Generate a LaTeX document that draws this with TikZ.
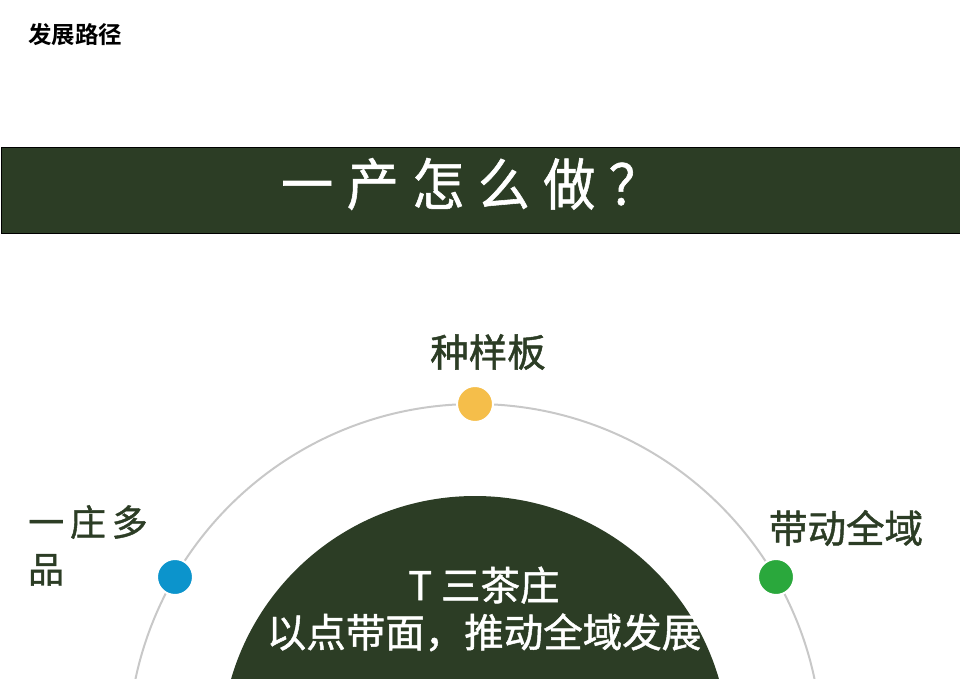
\documentclass[tikz,border=0pt]{standalone}
\usepackage{fontspec}
\setmainfont{Liberation Sans}
\newfontfamily\cjk[FakeBold=1.2]{Noto Sans CJK SC}
\newfontfamily\cjkbold{Noto Sans CJK SC Bold}
\newfontfamily\cjkspaced[LetterSpace=24,FakeStretch=0.93,FakeBold=1]{Noto Sans CJK SC}
\newfontfamily\cjkfarm[LetterSpace=16,FakeBold=1.2]{Noto Sans CJK SC}
\definecolor{teagreen}{RGB}{44,61,37}
\definecolor{arcgray}{RGB}{200,200,200}
\definecolor{dotyellow}{RGB}{245,190,74}
\definecolor{dotblue}{RGB}{12,148,204}
\definecolor{dotgreen}{RGB}{42,168,60}
\tikzstyle{dot} = [circle, minimum size=36pt, inner sep=0pt, draw=white, line width=2pt]
\tikzstyle{stagelabel} = [text=teagreen, inner sep=0pt, font=\cjk\fontsize{38.5}{47}\selectfont]
\tikzstyle{corelabel} = [text=white, inner sep=0pt, font=\cjk\fontsize{39.5}{47}\selectfont, align=center]

\begin{document}
\begin{tikzpicture}[x=1pt,y=-1pt]
    \useasboundingbox (0,0) rectangle (960,679);
    \node (title) [anchor=west, inner sep=0pt, font=\cjkbold\fontsize{23.5}{26}\selectfont] at (28,35) {发展路径};

    \node (banner) [draw=black, fill=teagreen, anchor=north west, minimum width=959pt, minimum height=86pt, inner sep=0pt] at (0.5,147) {};
    \node (question) [text=white, anchor=west, inner sep=0pt, font=\cjkspaced\fontsize{56}{60}\selectfont] at (281,184) {一产怎么做？};

    \begin{scope}
        \clip (0,0) rectangle (960,679);
        \draw[arcgray, line width=2pt] (475,751) circle[radius=347pt];
        \fill[teagreen] (475,750) circle[radius=254pt];
    \end{scope}

    \node (core) [corelabel] at (484,609) {T 三茶庄\\以点带面，推动全域发展};

    \node (dot_left) [dot, fill=dotblue] at (175,577) {};
    \node (dot_top) [dot, fill=dotyellow] at (475,404) {};
    \node (dot_right) [dot, fill=dotgreen] at (776,577) {};

    \node (one_farm) [stagelabel, anchor=north west, align=left, font=\cjkfarm\fontsize{36}{47}\selectfont] at (28,505) {一庄多\\品};
    \node (model) [stagelabel] at (488,352) {种样板};
    \node (drive) [stagelabel] at (846,528) {带动全域};
\end{tikzpicture}
\end{document}
